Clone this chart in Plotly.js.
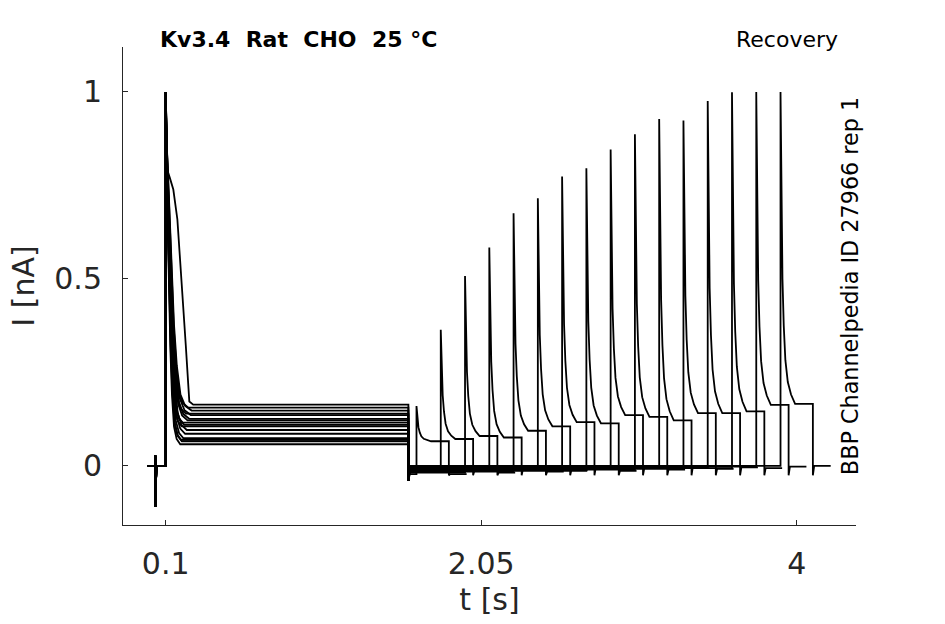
<!DOCTYPE html>
<html>
<head>
<meta charset="utf-8">
<script src="https://cdn.plot.ly/plotly-3.0.1.min.js"></script>
<style>
  html, body { margin: 0; padding: 0; background: #fff; }
  #chart { width: 945px; height: 624px; }
</style>
</head>
<body>
<div id="chart"></div>
<script>
// protocol timing [s]
const PULSE1_ON = 0.1;
const PULSE1_OFF = 1.6;
const PULSE2_LEN = 0.2;
const TAIL_LEN = 0.11;
const REC_START = [1.65, 1.80, 1.95, 2.10, 2.25, 2.40, 2.55, 2.70,
                   2.85, 3.00, 3.15, 3.30, 3.45, 3.60, 3.75, 3.90];

// normalized current per sweep
const PEAK2   = [0.16, 0.364, 0.508, 0.584, 0.676, 0.716, 0.774, 0.796,
                 0.846, 0.887, 0.928, 0.924, 0.976, 0.999, 1.0, 1.0];
const STEADY1 = [0.058, 0.066, 0.074, 0.070, 0.086, 0.096, 0.106, 0.110,
                 0.126, 0.122, 0.116, 0.136, 0.140, 0.148, 0.156, 0.164];
const STEADY2 = [0.066, 0.072, 0.080, 0.076, 0.094, 0.106, 0.117, 0.114,
                 0.136, 0.131, 0.122, 0.141, 0.141, 0.146, 0.163, 0.166];
const BASE2   = [-0.022, -0.012, -0.018, -0.008, -0.015, -0.010, -0.004, -0.013,
                 -0.006, -0.010, -0.002, -0.008, -0.004, -0.006, -0.002, 0.0];
const DECAY1_SCALE = [0.9, 1.0, 1.1, 0.95, 1.2, 1.3, 1.0, 1.15,
                      1.45, 1.35, 1.05, 1.55, 1.25, 1.6, 1.4, 1.0];
const SLOW_SWEEP = 15;

// waveform pieces (time offsets and fraction of peak-to-steady)
const PRE_T = [-0.011, 0.034, 0.036, 0.038, 0.040, 0.043, 0.1];
const PRE_I = [0, 0, 0.028, -0.11, -0.04, 0, 0];
const FAST_DT = [0, 0.002, 0.006, 0.014, 0.022, 0.032, 0.043, 0.057, 0.075, 0.1];
const FAST_F  = [1, 0.86, 0.8, 0.62, 0.44, 0.27, 0.14, 0.05, 0.015, 0];
const SLOW_DT = [0, 0.004, 0.025, 0.047, 0.072, 0.099, 0.124, 0.146, 0.17];
const SLOW_F  = [1, 0.76, 0.726, 0.688, 0.593, 0.40, 0.19, 0.01, 0];
const SPIKE_DT = [0, 0.002, 0.006, 0.012, 0.02, 0.03, 0.045, 0.065, 0.09];
const SPIKE_F  = [1, 0.85, 0.6, 0.4, 0.25, 0.14, 0.07, 0.03, 0];
const OFF1_DIP = -0.04;
const OFF2_DIP = -0.025;

const X_TICKS = [0.1, 2.05, 4];
const X_LABELS = ['0.1', '2.05', '4'];
const Y_TICKS = [0, 0.5, 1];
const Y_LABELS = ['0', '0.5', '1'];

const INK = '#262626';
const FONT = 'DejaVu Sans';

function sweep(i) {
  const t = [...PRE_T], y = [...PRE_I];
  const s1 = STEADY1[i];
  const slow = i === SLOW_SWEEP;
  const dt = slow ? SLOW_DT : FAST_DT;
  const fr = slow ? SLOW_F : FAST_F;
  const k = slow ? 1 : DECAY1_SCALE[i];
  dt.forEach((d, j) => { t.push(PULSE1_ON + d * k); y.push(s1 + (1 - s1) * fr[j]); });
  t.push(PULSE1_OFF, PULSE1_OFF, PULSE1_OFF + 0.008);
  y.push(s1, OFF1_DIP, BASE2[i]);

  const on = REC_START[i], off = on + PULSE2_LEN, s2 = STEADY2[i];
  t.push(on);
  y.push(BASE2[i]);
  SPIKE_DT.forEach((d, j) => { t.push(on + d); y.push(s2 + (PEAK2[i] - s2) * SPIKE_F[j]); });
  t.push(off, off, off + 0.008, off + TAIL_LEN);
  y.push(s2, OFF2_DIP, BASE2[i], BASE2[i]);
  return t.map((v, j) => [v, y[j]]);
}

const traces = REC_START.map((_, i) => {
  const pts = sweep(i);
  return {
    type: 'scatter',
    mode: 'lines',
    x: pts.map(p => p[0]),
    y: pts.map(p => p[1]),
    line: { color: '#000', width: 1.8 },
    hoverinfo: 'skip',
    showlegend: false,
  };
});

const axisBase = {
  showgrid: false, zeroline: false, showline: true,
  linecolor: INK, linewidth: 1,
  ticks: 'inside', ticklen: 5, tickwidth: 1, tickcolor: INK,
  tickfont: { family: FONT, size: 30, color: INK },
  tickmode: 'array',
};

Plotly.newPlot('chart', traces, {
  width: 945, height: 624,
  paper_bgcolor: '#fff', plot_bgcolor: '#fff',
  margin: { l: 123, r: 89, t: 47, b: 99 },
  font: { family: FONT, color: INK },
  xaxis: {
    ...axisBase,
    range: [-0.164, 4.3665],
    tickvals: X_TICKS, ticktext: X_LABELS,
    ticklabelstandoff: 12,
    title: { text: 't [s]', font: { family: FONT, size: 30, color: INK }, standoff: 8 },
  },
  yaxis: {
    ...axisBase,
    range: [-0.158, 1.1203],
    tickvals: Y_TICKS, ticktext: Y_LABELS,
    ticklabelstandoff: 14,
    title: { text: 'I [nA]', font: { family: FONT, size: 30, color: INK }, standoff: 10 },
  },
  annotations: [
    { text: '<b>Kv3.4\u00a0\u00a0Rat\u00a0\u00a0CHO\u00a0\u00a025 °C</b>',
      xref: 'paper', yref: 'paper', x: 0.0477, y: 1, xanchor: 'left', yanchor: 'bottom',
      yshift: -7, showarrow: false, font: { family: FONT, size: 22, color: '#000' } },
    { text: 'Recovery',
      xref: 'paper', yref: 'paper', x: 0.978, y: 1, xanchor: 'right', yanchor: 'bottom',
      yshift: -7, showarrow: false, font: { family: FONT, size: 22, color: '#000' } },
    { text: 'BBP Channelpedia ID 27966 rep 1',
      xref: 'paper', yref: 'paper', x: 0.992, y: 0.5, xanchor: 'center', yanchor: 'middle',
      textangle: -90, showarrow: false, font: { family: FONT, size: 22.3, color: '#000' } },
  ],
}, { displayModeBar: false, staticPlot: true });
</script>
</body>
</html>
